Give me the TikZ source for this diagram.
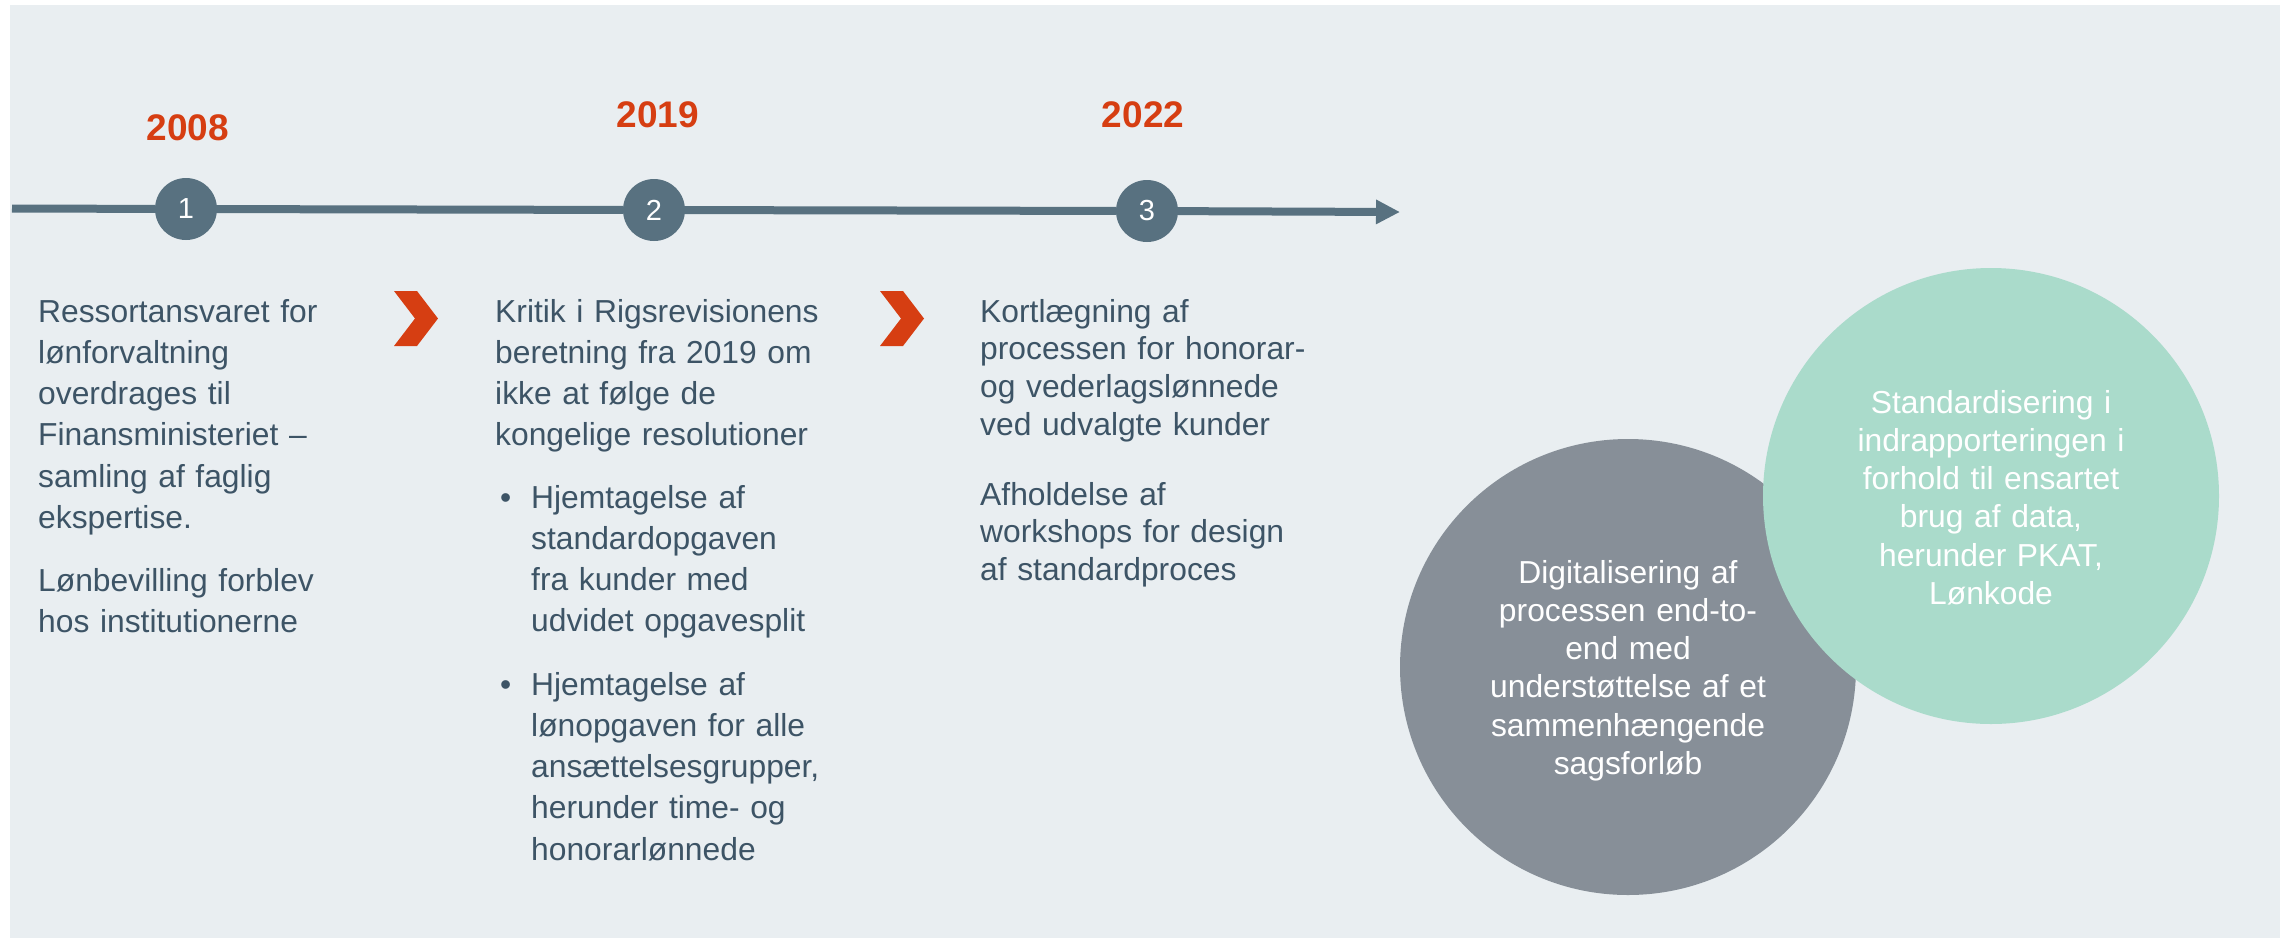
\documentclass[tikz,border=0pt]{standalone}
\usepackage{fontspec}
\setmainfont{Liberation Sans}
\usetikzlibrary{arrows.meta}
\definecolor{bgc}{RGB}{233,238,241}
\definecolor{slate}{RGB}{88,113,128}
\definecolor{txt}{RGB}{61,84,102}
\definecolor{accent}{RGB}{214,62,18}
\definecolor{greyc}{RGB}{135,143,152}
\definecolor{tealc}{RGB}{170,219,203}
\tikzset{
  body/.style={anchor=base west, inner sep=0pt, text width=430pt, align=left, text=txt, font=\fontsize{31.8}{41.3}\selectfont},
  bodythree/.style={body, font=\fontsize{31.8}{37.7}\selectfont},
  bulletmark/.style={anchor=base west, inner sep=0pt, text=txt, font=\fontsize{31.8}{41.3}\selectfont},
  year/.style={anchor=base, inner sep=0pt, text=accent, font=\fontsize{37}{40}\selectfont\bfseries},
  stepnum/.style={circle, fill=slate, minimum size=62pt, inner sep=0pt, text=white, font=\fontsize{29}{30}\selectfont},
  timeline/.style={draw=slate, line width=8pt},
  bubble/.style={circle, minimum size=456pt, inner sep=0pt},
  bubbletext/.style={anchor=base, inner sep=0pt, text width=360pt, align=center, text=white, font=\fontsize{31.8}{38.3}\selectfont},
  chevron/.style={fill=accent}
}
\begin{document}
\begin{tikzpicture}[x=1pt,y=-1pt]
\useasboundingbox (0,0) rectangle (2280,938);
\fill[bgc] (10,5) rectangle (2280,938);

% timeline
\coordinate (start) at (12,208.5);
\coordinate (end) at (1400,212);
\node[stepnum] (n1) at (186,209) {1};
\node[stepnum] (n2) at (654,210) {2};
\node[stepnum] (n3) at (1147,211) {3};
\draw[timeline] (start) -- (n1);
\draw[timeline] (n1) -- (n2);
\draw[timeline] (n2) -- (n3);
\draw[timeline,-{Triangle[length=24pt,width=23pt]}] (n3) -- (end);

% years
\node[year] (y1) at (188,140) {2008};
\node[year] (y2) at (658,127) {2019};
\node[year] (y3) at (1143,127) {2022};

% chevrons
\fill[chevron] (394,291) -- (417,291) -- (438,318.5) -- (417,346) -- (394,346) -- (415,318.5) -- cycle;
\fill[chevron] (880,291) -- (903,291) -- (924,318.5) -- (903,346) -- (880,346) -- (901,318.5) -- cycle;

% column 1
\node[body] (c1a) at (38,322) {Ressortansvaret for\\lønforvaltning\\overdrages til\\Finansministeriet –\\samling af faglig\\ekspertise.};
\node[body] (c1b) at (38,591) {Lønbevilling forblev\\hos institutionerne};

% column 2
\node[body] (c2a) at (495,322) {Kritik i Rigsrevisionens\\beretning fra 2019 om\\ikke at følge de\\kongelige resolutioner};
\node[bulletmark] (b1) at (500,508) {•};
\node[body] (c2b) at (531,508) {Hjemtagelse af\\standardopgaven\\fra kunder med\\udvidet opgavesplit};
\node[bulletmark] (b2) at (500,695) {•};
\node[body] (c2c) at (531,695) {Hjemtagelse af\\lønopgaven for alle\\ansættelsesgrupper,\\herunder time- og\\honorarlønnede};

% column 3
\node[bodythree] (c3a) at (980,322) {Kortlægning af\\processen for honorar-\\og vederlagslønnede\\ved udvalgte kunder};
\node[bodythree] (c3b) at (980,505) {Afholdelse af\\workshops for design\\af standardproces};

% bubbles
\node[bubble, fill=greyc] (gc) at (1628,667) {};
\node[bubble, fill=tealc] (tc) at (1991,496) {};
\node[bubbletext] (gt) at (1628,583) {Digitalisering af\\processen end-to-\\end med\\understøttelse af et\\sammenhængende\\sagsforløb};
\node[bubbletext] (tt) at (1991,413) {Standardisering i\\indrapporteringen i\\forhold til ensartet\\brug af data,\\herunder PKAT,\\Lønkode};
\end{tikzpicture}
\end{document}
